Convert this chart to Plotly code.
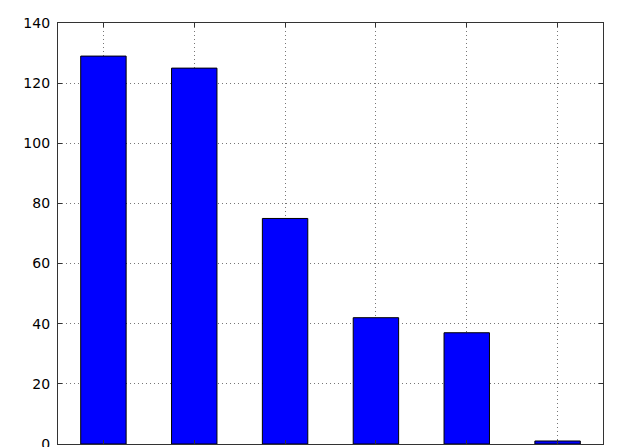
import plotly.graph_objects as go

categories = ["A", "B", "C", "D", "E", "F"]
values = [129, 125, 75, 42, 37, 1]
y_ticks = [0, 20, 40, 60, 80, 100, 120, 140]

fig = go.Figure()
fig.add_trace(go.Bar(
    x=categories, y=values, width=0.5,
    marker=dict(color="#0000ff", line=dict(color="black", width=1)),
))

axis_common = dict(
    showline=True, linecolor="#333333", linewidth=1.2, mirror="ticks",
    ticks="inside", ticklen=4, tickcolor="#333333",
    showgrid=True, gridcolor="#777777", griddash="1px,3px", gridwidth=1,
    zeroline=False,
)
fig.update_xaxes(range=[-0.5, 5.5], showticklabels=False, **axis_common)
fig.update_yaxes(range=[0, 140], tickvals=y_ticks, ticklabelstandoff=4,
                 ticklabeloverflow="allow",
                 tickfont=dict(family="DejaVu Sans", size=14, color="black"),
                 **axis_common)

fig.update_layout(
    width=641, height=447,
    margin=dict(l=58, r=38, t=23, b=3, autoexpand=False),
    paper_bgcolor="white", plot_bgcolor="white",
    showlegend=False,
    font=dict(family="DejaVu Sans"),
)
fig.write_html("out.html", config={"displayModeBar": False},
               post_script="document.body.style.margin='0';document.body.style.overflow='hidden';")
